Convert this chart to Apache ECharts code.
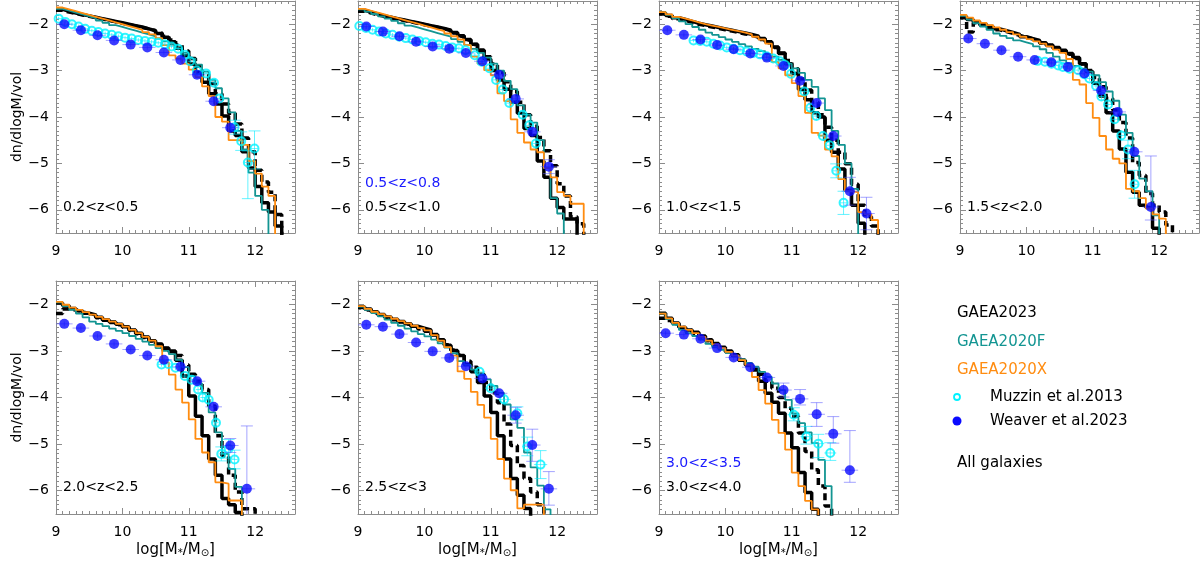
<!DOCTYPE html>
<html>
<head>
<meta charset="utf-8">
<script src="https://cdn.jsdelivr.net/npm/echarts@6/dist/echarts.min.js"></script>
<style>
html, body { margin: 0; padding: 0; background: #fff; }
#chart { width: 1200px; height: 562px; }
</style>
</head>
<body>
<div id="chart"></div>
<script>
// step histograms: log(phi) per 0.1 dex bin, first bin starts at 9.0
// bk = GAEA2023 (solid), bd = GAEA2023 (dashed), tl = GAEA2020F, or = GAEA2020X
var bk1 = [-1.68,-1.72,-1.76,-1.79,-1.82,-1.85,-1.88,-1.91,-1.94,-1.97,-2.0,-2.03,-2.06,-2.1,-2.14,-2.2,-2.28,-2.38,-2.52,-2.68,-2.86,-3.04,-3.25,-3.5,-3.72,-3.98,-4.3,-4.4,-4.75,-5.1,-5.5,-5.85,-6.05,-6.35,-7];
var bd1 = [-1.7,-1.74,-1.77,-1.8,-1.83,-1.86,-1.89,-1.92,-1.95,-1.98,-2.01,-2.04,-2.07,-2.1,-2.14,-2.19,-2.26,-2.34,-2.45,-2.58,-2.74,-2.9,-3.08,-3.28,-3.5,-3.72,-3.92,-4.15,-4.45,-4.75,-5.15,-5.4,-5.62,-6.1,-7];
var tl1 = [-1.67,-1.71,-1.75,-1.79,-1.83,-1.87,-1.92,-1.97,-2.02,-2.06,-2.1,-2.14,-2.18,-2.22,-2.26,-2.31,-2.37,-2.44,-2.52,-2.62,-2.74,-2.87,-3.02,-3.2,-3.38,-3.6,-3.9,-4.3,-4.7,-5.2,-5.7,-6.0,-7];
var or1 = [-1.64,-1.68,-1.72,-1.76,-1.8,-1.84,-1.88,-1.92,-1.96,-2.0,-2.04,-2.08,-2.12,-2.17,-2.22,-2.3,-2.45,-2.67,-2.74,-2.85,-2.98,-3.14,-3.34,-3.55,-4.0,-4.1,-4.5,-4.5,-4.6,-4.95,-5.22,-5.5,-5.7,-7];

var bk2 = [-1.7,-1.74,-1.78,-1.82,-1.85,-1.88,-1.91,-1.94,-1.97,-2.0,-2.03,-2.06,-2.09,-2.13,-2.18,-2.25,-2.33,-2.43,-2.56,-2.75,-3.0,-3.2,-3.4,-3.68,-3.92,-4.25,-4.4,-4.95,-5.3,-5.75,-5.95,-6.2,-6.2,-7];
var bd2 = [-1.72,-1.76,-1.8,-1.83,-1.86,-1.89,-1.92,-1.95,-1.98,-2.01,-2.04,-2.07,-2.1,-2.14,-2.19,-2.26,-2.34,-2.44,-2.56,-2.7,-2.86,-3.04,-3.24,-3.45,-3.68,-3.95,-4.2,-4.44,-4.73,-5.05,-5.44,-5.7,-6.15,-6.3,-7];
var tl2 = [-1.68,-1.73,-1.78,-1.83,-1.88,-1.93,-1.98,-2.03,-2.07,-2.11,-2.15,-2.19,-2.23,-2.27,-2.32,-2.38,-2.45,-2.53,-2.62,-2.72,-2.85,-3.0,-3.22,-3.4,-3.75,-3.95,-4.12,-4.5,-5.1,-5.75,-6.08,-7];
var or2 = [-1.67,-1.71,-1.75,-1.79,-1.83,-1.87,-1.91,-1.95,-1.99,-2.03,-2.07,-2.11,-2.15,-2.2,-2.26,-2.33,-2.45,-2.7,-2.85,-2.99,-3.1,-3.49,-3.66,-4.05,-4.34,-4.55,-4.7,-4.76,-5.1,-5.3,-5.62,-5.7,-5.87,-5.87,-7];

var bk3 = [-1.76,-1.81,-1.86,-1.9,-1.94,-1.98,-2.01,-2.04,-2.07,-2.1,-2.13,-2.16,-2.19,-2.22,-2.26,-2.31,-2.38,-2.49,-2.63,-2.85,-3.06,-3.41,-3.63,-3.91,-4.0,-4.5,-4.76,-5.12,-5.58,-5.9,-6.29,-7];
var bd3 = [-1.78,-1.83,-1.88,-1.92,-1.96,-2.0,-2.03,-2.06,-2.09,-2.12,-2.15,-2.18,-2.21,-2.24,-2.28,-2.33,-2.4,-2.5,-2.62,-2.78,-2.96,-3.18,-3.42,-3.68,-3.95,-4.22,-4.5,-4.76,-5.01,-5.45,-5.9,-6.15,-6.35,-7];
var tl3 = [-1.74,-1.8,-1.87,-1.94,-2.0,-2.06,-2.12,-2.18,-2.23,-2.28,-2.33,-2.38,-2.43,-2.48,-2.53,-2.58,-2.64,-2.7,-2.77,-2.85,-2.95,-3.05,-3.2,-3.35,-3.6,-3.85,-4.3,-4.6,-5.0,-5.55,-7];
var or3 = [-1.74,-1.79,-1.84,-1.88,-1.92,-1.96,-2.0,-2.03,-2.06,-2.09,-2.12,-2.15,-2.18,-2.22,-2.27,-2.33,-2.42,-2.81,-2.95,-3.1,-3.27,-3.55,-3.91,-4.34,-4.4,-4.7,-4.85,-5.34,-5.6,-5.62,-6.05,-6.1,-6.22,-7];

var bk4 = [-1.84,-1.9,-1.95,-2.0,-2.05,-2.1,-2.14,-2.18,-2.22,-2.27,-2.31,-2.35,-2.4,-2.45,-2.5,-2.56,-2.63,-2.72,-2.85,-3.02,-3.27,-3.55,-3.91,-4.3,-4.69,-5.19,-5.62,-5.9,-5.95,-6.4,-7];
var bd4 = [-1.86,-2.17,-1.97,-2.02,-2.07,-2.12,-2.16,-2.2,-2.24,-2.28,-2.32,-2.36,-2.41,-2.46,-2.52,-2.58,-2.65,-2.74,-2.86,-3.0,-3.15,-3.35,-3.6,-3.85,-4.12,-4.45,-4.98,-5.26,-5.65,-5.9,-6.05,-6.33,-7];
var tl4 = [-1.82,-1.9,-1.98,-2.05,-2.12,-2.2,-2.25,-2.3,-2.35,-2.39,-2.43,-2.48,-2.54,-2.62,-2.7,-2.78,-2.84,-2.9,-2.96,-3.02,-3.1,-3.25,-3.45,-3.65,-3.95,-4.34,-4.84,-5.33,-5.6,-6.12,-7];
var or4 = [-1.8,-1.86,-1.92,-1.97,-2.02,-2.07,-2.12,-2.17,-2.22,-2.27,-2.32,-2.37,-2.42,-2.48,-2.55,-2.62,-2.75,-3.2,-3.3,-3.7,-4.02,-4.41,-4.7,-4.9,-5.0,-5.55,-5.6,-5.75,-5.97,-6.1,-6.19,-7];

var bk5 = [-1.97,-2.03,-2.09,-2.14,-2.19,-2.23,-2.28,-2.33,-2.38,-2.43,-2.48,-2.55,-2.62,-2.7,-2.78,-2.85,-2.94,-3.0,-3.2,-3.54,-3.97,-4.4,-4.82,-5.32,-5.67,-6.17,-6.3,-6.47,-7];
var bd5 = [-2.2,-2.1,-2.12,-2.16,-2.2,-2.24,-2.29,-2.34,-2.39,-2.44,-2.49,-2.56,-2.63,-2.71,-2.79,-2.86,-2.95,-3.02,-3.1,-3.3,-3.5,-3.65,-3.83,-4.18,-4.82,-5.25,-5.67,-6.03,-6.39,-6.39,-7];
var tl5 = [-1.96,-2.04,-2.12,-2.2,-2.28,-2.37,-2.42,-2.47,-2.52,-2.57,-2.62,-2.68,-2.74,-2.8,-2.87,-2.94,-3.0,-3.07,-3.19,-3.35,-3.54,-3.7,-3.9,-4.32,-4.75,-5.21,-5.53,-5.92,-7];
var or5 = [-1.95,-2.01,-2.07,-2.12,-2.17,-2.22,-2.27,-2.32,-2.37,-2.42,-2.48,-2.55,-2.62,-2.7,-2.78,-2.9,-3.25,-3.51,-3.83,-4.11,-4.47,-4.89,-5.18,-5.39,-5.82,-5.85,-6.21,-6.21,-7];

var bk6 = [-2.05,-2.1,-2.16,-2.22,-2.27,-2.32,-2.37,-2.42,-2.47,-2.51,-2.55,-2.65,-2.76,-2.88,-2.99,-3.1,-3.29,-3.45,-3.68,-3.97,-4.32,-4.82,-5.32,-5.74,-6.1,-6.38,-7];
var bd6 = [-2.07,-2.12,-2.18,-2.23,-2.28,-2.33,-2.38,-2.43,-2.48,-2.53,-2.58,-2.66,-2.76,-2.87,-2.98,-3.09,-3.22,-3.35,-3.5,-3.68,-3.9,-4.11,-4.57,-5.03,-5.46,-5.74,-6.03,-6.3,-7];
var tl6 = [-2.05,-2.12,-2.19,-2.26,-2.33,-2.4,-2.46,-2.52,-2.58,-2.64,-2.69,-2.76,-2.84,-2.93,-3.05,-3.22,-3.3,-3.4,-3.5,-3.61,-3.75,-3.9,-4.15,-4.47,-4.65,-5.18,-5.5,-5.89,-6.4,-7];
var or6 = [-2.04,-2.1,-2.16,-2.21,-2.26,-2.31,-2.36,-2.41,-2.46,-2.51,-2.56,-2.66,-2.78,-2.92,-3.1,-3.44,-3.6,-3.88,-4.16,-4.43,-4.89,-5.32,-5.74,-5.99,-6.38,-6.3,-6.3,-6.3,-7];

var bk7 = [-2.19,-2.3,-2.4,-2.5,-2.55,-2.6,-2.68,-2.76,-2.84,-2.92,-3.0,-3.08,-3.2,-3.3,-3.41,-3.65,-3.91,-4.1,-4.34,-4.76,-5.08,-5.61,-6.04,-6.4,-7];
var bd7 = [-2.3,-2.35,-2.42,-2.5,-2.56,-2.62,-2.7,-2.78,-2.86,-2.94,-3.02,-3.1,-3.2,-3.28,-3.38,-3.5,-3.65,-3.8,-4.0,-4.23,-4.4,-4.76,-5.16,-5.55,-5.9,-6.33,-7];
var tl7 = [-2.2,-2.32,-2.44,-2.55,-2.62,-2.68,-2.76,-2.85,-2.92,-2.98,-3.04,-3.1,-3.18,-3.26,-3.34,-3.45,-3.56,-3.7,-3.84,-4.05,-4.34,-4.55,-4.75,-4.98,-5.34,-5.9,-7];
var or7 = [-2.2,-2.3,-2.4,-2.48,-2.55,-2.62,-2.7,-2.78,-2.86,-2.94,-3.02,-3.1,-3.2,-3.3,-3.56,-3.84,-4.13,-4.48,-4.76,-5.12,-5.61,-5.9,-6.22,-6.4,-7];

// Weaver et al. 2023 (filled), bins of 0.25 dex
var wvX = [9.125, 9.375, 9.625, 9.875, 10.125, 10.375, 10.625, 10.875, 11.125, 11.375, 11.625, 11.875, 12.125];
var wvX7 = [9.1, 9.375, 9.625, 9.875, 10.125, 10.375, 10.625, 10.875, 11.125, 11.375, 11.625, 11.875];
var wv1 = [-2.0,-2.13,-2.24,-2.35,-2.44,-2.5,-2.61,-2.77,-3.09,-3.66,-4.23];
var wv2 = [-2.05,-2.16,-2.26,-2.38,-2.48,-2.53,-2.62,-2.8,-3.09,-3.61,-4.32,-5.07];
var wv3 = [-2.13,-2.23,-2.33,-2.45,-2.54,-2.63,-2.72,-2.9,-3.22,-3.7,-4.41,-5.6,-6.08];
var wv4 = [-2.31,-2.42,-2.56,-2.7,-2.77,-2.82,-2.92,-3.06,-3.43,-3.89,-4.75,-5.94];
var wv5 = [-2.42,-2.51,-2.68,-2.85,-2.97,-3.1,-3.19,-3.34,-3.65,-4.2,-5.03,-5.96];
var wv6 = [-2.44,-2.48,-2.64,-2.82,-3.01,-3.15,-3.33,-3.59,-3.91,-4.38,-5.02,-5.96];
var wv7 = [-2.62,-2.65,-2.74,-2.94,-3.14,-3.35,-3.57,-3.84,-4.03,-4.36,-4.78,-5.56];
// errors: number = symmetric, [down, up] otherwise
var wvE1 = [.05,.05,.05,.05,.05,.05,.05,.06,.07,.09,.12];
var wvE2 = [.05,.05,.05,.05,.05,.05,.05,.06,.07,.08,.1,.15];
var wvE3 = [.05,.05,.05,.05,.05,.05,.05,.06,.07,.08,.1,.3,.35];
var wvE4 = [.05,.05,.05,.05,.05,.05,.05,.06,.08,.1,.12,[.28,1.1]];
var wvE5 = [.05,.05,.05,.05,.05,.05,.05,.06,.08,.1,.15,[.6,1.35]];
var wvE6 = [.05,.05,.05,.05,.05,.05,.06,.07,.09,.17,[.35,.34],[.35,.37]];
var wvE7 = [.05,.05,.05,.05,.06,.07,.1,.15,[.13,.2],[.26,.25],[.2,.37],[.26,.85]];

// Muzzin et al. 2013 (open circles), [logM, logphi]
var mz1 = [[9.04,-1.88],[9.14,-1.95],[9.24,-2.0],[9.34,-2.05],[9.44,-2.1],[9.54,-2.14],[9.64,-2.17],[9.74,-2.2],[9.84,-2.23],[9.94,-2.26],[10.04,-2.29],[10.14,-2.31],[10.24,-2.34],[10.34,-2.36],[10.44,-2.38],[10.54,-2.4],[10.64,-2.43],[10.74,-2.48],[10.84,-2.53],[10.94,-2.66],[11.02,-2.8],[11.12,-3.0],[11.26,-3.06],[11.38,-3.26],[11.46,-3.6],[11.69,-4.22],[11.79,-4.52],[11.89,-4.98],[11.99,-4.68]];
var mz2 = [[9.02,-2.04],[9.12,-2.08],[9.22,-2.12],[9.32,-2.16],[9.42,-2.2],[9.52,-2.23],[9.62,-2.27],[9.72,-2.3],[9.82,-2.33],[9.92,-2.36],[10.02,-2.39],[10.12,-2.42],[10.22,-2.44],[10.32,-2.47],[10.42,-2.5],[10.52,-2.52],[10.62,-2.56],[10.76,-2.67],[10.86,-2.81],[10.98,-2.95],[11.08,-3.2],[11.18,-3.41],[11.28,-3.7],[11.48,-3.95],[11.58,-4.18],[11.68,-4.57]];
var mz3 = [[9.52,-2.35],[9.62,-2.36],[9.72,-2.38],[9.82,-2.42],[9.92,-2.46],[10.02,-2.5],[10.12,-2.53],[10.22,-2.56],[10.32,-2.59],[10.42,-2.62],[10.52,-2.65],[10.62,-2.69],[10.72,-2.74],[10.82,-2.8],[10.9,-2.88],[10.99,-3.07],[11.19,-3.45],[11.28,-3.8],[11.37,-3.98],[11.47,-4.41],[11.57,-4.61],[11.67,-5.16],[11.78,-5.85]];
var mz4 = [[10.17,-2.79],[10.28,-2.81],[10.38,-2.85],[10.48,-2.89],[10.55,-2.92],[10.65,-2.96],[10.78,-2.99],[10.87,-3.08],[10.95,-3.17],[11.05,-3.33],[11.13,-3.56],[11.23,-3.73],[11.33,-4.05],[11.43,-4.4],[11.53,-4.7],[11.63,-5.45]];
var mz5 = [[10.59,-3.29],[10.69,-3.28],[10.8,-3.36],[10.94,-3.54],[11.04,-3.62],[11.14,-3.83],[11.21,-4.0],[11.3,-4.05],[11.41,-4.54],[11.49,-5.21],[11.6,-5.1],[11.69,-5.33]];
var mz6 = [[10.83,-3.45],[11.0,-3.8],[11.2,-4.04],[11.4,-4.34],[11.55,-5.05],[11.75,-5.44]];
var mz7 = [[11.03,-4.37],[11.22,-4.84],[11.4,-4.99],[11.58,-5.19]];
var mzE1 = [.04,.04,.04,.04,.04,.04,.04,.04,.04,.04,.04,.04,.04,.04,.04,.04,.04,.04,.05,.05,.05,.06,.06,.07,.08,.15,.2,[.78,.25],[.44,.38]];
var mzE2 = [.04,.04,.04,.04,.04,.04,.04,.04,.04,.04,.04,.04,.04,.04,.04,.04,.04,.05,.05,.05,.06,.06,.07,.08,.1,.12];
var mzE3 = [.04,.04,.04,.04,.04,.04,.04,.04,.04,.04,.04,.04,.04,.05,.05,.05,.06,.07,.08,.1,.12,.15,.25];
var mzE4 = [.05,.05,.05,.05,.05,.05,.05,.05,.05,.06,.07,.08,.1,.12,.2,[.3,.3]];
var mzE5 = [.05,.05,.05,.05,.06,.07,.08,.1,.12,.15,.2,.2];
var mzE6 = [.06,.08,.1,.14,.2,[.3,.3]];
var mzE7 = [[.13,.15],[.16,.22],[.3,.2],[.16,.22]];

var zLabels = [['0.2<z<0.5'], ['0.5<z<0.8', '0.5<z<1.0'], ['1.0<z<1.5'], ['1.5<z<2.0'],
               ['2.0<z<2.5'], ['2.5<z<3'], ['3.0<z<3.5', '3.0<z<4.0']];
var xTickVals = [9, 10, 11, 12];
var yTickVals = [-6, -5, -4, -3, -2];

var panels = [
  {bk: bk1, bd: bd1, tl: tl1, or: or1, wx: wvX, wv: wv1, we: wvE1, mz: mz1, me: mzE1},
  {bk: bk2, bd: bd2, tl: tl2, or: or2, wx: wvX, wv: wv2, we: wvE2, mz: mz2, me: mzE2},
  {bk: bk3, bd: bd3, tl: tl3, or: or3, wx: wvX, wv: wv3, we: wvE3, mz: mz3, me: mzE3},
  {bk: bk4, bd: bd4, tl: tl4, or: or4, wx: wvX, wv: wv4, we: wvE4, mz: mz4, me: mzE4},
  {bk: bk5, bd: bd5, tl: tl5, or: or5, wx: wvX, wv: wv5, we: wvE5, mz: mz5, me: mzE5},
  {bk: bk6, bd: bd6, tl: tl6, or: or6, wx: wvX, wv: wv6, we: wvE6, mz: mz6, me: mzE6},
  {bk: bk7, bd: bd7, tl: tl7, or: or7, wx: wvX7, wv: wv7, we: wvE7, mz: mz7, me: mzE7}
];

var FONT = '"DejaVu Sans", sans-serif';
var FRAME = '#8c8c8c';
var C_TEAL = '#139592', C_ORANGE = '#ff8c10', C_CYAN = '#00f2ff', C_BLUE = '#0a0aff';
var C_BLUE_ERR = 'rgba(90,90,255,0.55)', C_CYAN_ERR = 'rgba(0,235,255,0.6)';

var colLeft = [56, 358, 659, 960], rowTop = [1, 281];
var GW = 239, GH = 232;

function stepData(vals) {
  var out = [];
  for (var i = 0; i < vals.length; i++) out.push([+(9 + 0.1 * i).toFixed(2), vals[i]]);
  out.push([+(9 + 0.1 * vals.length).toFixed(2), vals[vals.length - 1]]);
  return out;
}

function errItems(xs, ys, es, hwFn) {
  var out = [];
  for (var i = 0; i < ys.length; i++) {
    var e = es[i] == null ? 0.04 : es[i];
    var dn = Array.isArray(e) ? e[0] : e, up = Array.isArray(e) ? e[1] : e;
    out.push([xs[i], ys[i], dn, up, hwFn(i)]);
  }
  return out;
}

function errRender(color) {
  return function (params, api) {
    var x = api.value(0), y = api.value(1), dn = api.value(2), up = api.value(3), hw = api.value(4);
    var c = api.coord([x, y]);
    var lo = api.coord([x, y - dn]);
    var hi = api.coord([x, y + up]);
    var l = api.coord([x - hw, y]);
    var r = api.coord([x + hw, y]);
    var st = {stroke: color, lineWidth: 1};
    var kids = [
      {type: 'line', shape: {x1: c[0], y1: lo[1], x2: c[0], y2: hi[1]}, style: st},
      {type: 'line', shape: {x1: l[0], y1: c[1], x2: r[0], y2: c[1]}, style: st}
    ];
    if (dn > 0.12) kids.push({type: 'line', shape: {x1: c[0] - 6, y1: lo[1], x2: c[0] + 6, y2: lo[1]}, style: st});
    if (up > 0.12) kids.push({type: 'line', shape: {x1: c[0] - 6, y1: hi[1], x2: c[0] + 6, y2: hi[1]}, style: st});
    return {type: 'group', children: kids};
  };
}

function minusFmt(v) { return v < 0 ? '\u2212' + Math.abs(v) : String(v); }

var grids = [], xAxes = [], yAxes = [], series = [], graphics = [];

panels.forEach(function (p, i) {
  var col = i % 4, row = Math.floor(i / 4);
  var left = colLeft[col], top = rowTop[row];
  grids.push({left: left, top: top, width: GW, height: row === 0 ? GH : GH + 1});

  var lineSt = {color: FRAME, width: 1};
  var xBase = {gridIndex: i, type: 'value', min: 9, max: 12.6, splitLine: {show: false}};
  var yBase = {gridIndex: i, type: 'value', min: -6.5, max: -1.5, splitLine: {show: false}};
  // major bottom (labels)
  xAxes.push(Object.assign({}, xBase, {
    position: 'bottom', interval: 0.5,
    axisLine: {show: true, onZero: false, lineStyle: lineSt},
    axisTick: {show: true, inside: true, length: 6, customValues: xTickVals, lineStyle: lineSt},
    axisLabel: {show: true, customValues: xTickVals, color: '#000', fontSize: 14, fontFamily: FONT, margin: 11},
    name: row === 1 ? 'log[M{s|*}/M{s|\u2299}]' : '', nameLocation: 'middle', nameGap: 28,
    nameTextStyle: {color: '#000', fontSize: 15, fontFamily: FONT,
      rich: {s: {fontSize: 10, fontFamily: FONT, color: '#000', verticalAlign: 'bottom', padding: [6, 0, 0, 0]}}}
  }));
  xAxes.push(Object.assign({}, xBase, {
    position: 'bottom', interval: 0.1, axisLine: {show: false},
    axisTick: {show: true, inside: true, length: 3, lineStyle: lineSt}, axisLabel: {show: false}
  }));
  xAxes.push(Object.assign({}, xBase, {
    position: 'top', interval: 0.5,
    axisLine: {show: true, onZero: false, lineStyle: lineSt},
    axisTick: {show: true, inside: true, length: 6, customValues: xTickVals, lineStyle: lineSt},
    axisLabel: {show: false}
  }));
  xAxes.push(Object.assign({}, xBase, {
    position: 'top', interval: 0.1, axisLine: {show: false},
    axisTick: {show: true, inside: true, length: 3, lineStyle: lineSt}, axisLabel: {show: false}
  }));

  yAxes.push(Object.assign({}, yBase, {
    position: 'left', interval: 0.5,
    axisLine: {show: true, onZero: false, lineStyle: lineSt},
    axisTick: {show: true, inside: true, length: 6, customValues: yTickVals, lineStyle: lineSt},
    axisLabel: {show: true, customValues: yTickVals, color: '#000', fontSize: 14, fontFamily: FONT, margin: 7, formatter: minusFmt},
    name: col === 0 ? 'dn/dlogM/vol' : '', nameLocation: 'middle', nameGap: 32,
    nameTextStyle: {color: '#000', fontSize: 14, fontFamily: FONT}
  }));
  yAxes.push(Object.assign({}, yBase, {
    position: 'left', interval: 0.1, axisLine: {show: false},
    axisTick: {show: true, inside: true, length: 3, lineStyle: lineSt}, axisLabel: {show: false}
  }));
  yAxes.push(Object.assign({}, yBase, {
    position: 'right', interval: 0.5,
    axisLine: {show: true, onZero: false, lineStyle: lineSt},
    axisTick: {show: true, inside: true, length: 6, customValues: yTickVals, lineStyle: lineSt},
    axisLabel: {show: false}
  }));
  yAxes.push(Object.assign({}, yBase, {
    position: 'right', interval: 0.1, axisLine: {show: false},
    axisTick: {show: true, inside: true, length: 3, lineStyle: lineSt}, axisLabel: {show: false}
  }));

  var ax = {xAxisIndex: 4 * i, yAxisIndex: 4 * i};
  function stepLine(vals, color, width, type, z) {
    return Object.assign({
      type: 'line', step: 'end', data: stepData(vals), showSymbol: false, symbol: 'none',
      clip: true, silent: true, z: z,
      lineStyle: {color: color, width: width, type: type}
    }, ax);
  }
  series.push(stepLine(p.bk, '#000', 3.5, 'solid', 2));
  series.push(stepLine(p.bd, '#000', 3.5, [7, 4], 2));
  series.push(stepLine(p.tl, C_TEAL, 1.8, 'solid', 3));
  series.push(stepLine(p.or, C_ORANGE, 1.8, 'solid', 4));

  var mzx = p.mz.map(function (d) { return d[0]; });
  var mzy = p.mz.map(function (d) { return d[1]; });
  series.push(Object.assign({
    type: 'custom', renderItem: errRender(C_CYAN_ERR), clip: true, silent: true, z: 5,
    data: errItems(mzx, mzy, p.me, function (k) {
      var a = k > 0 ? mzx[k] - mzx[k - 1] : 1, b = k < mzx.length - 1 ? mzx[k + 1] - mzx[k] : a;
      return Math.min(0.1, Math.min(a, b) / 2);
    })
  }, ax));
  series.push(Object.assign({
    type: 'scatter', data: p.mz, symbol: 'circle', symbolSize: 8, silent: true, z: 6, clip: true,
    itemStyle: {color: 'rgba(255,255,255,0)', borderColor: C_CYAN, borderWidth: 2}
  }, ax));

  var wx = p.wx.slice(0, p.wv.length);
  series.push(Object.assign({
    type: 'custom', renderItem: errRender(C_BLUE_ERR), clip: true, silent: true, z: 7,
    data: errItems(wx, p.wv, p.we, function () { return 0.125; })
  }, ax));
  series.push(Object.assign({
    type: 'scatter', data: wx.map(function (x, k) { return [x, p.wv[k]]; }),
    symbol: 'circle', symbolSize: 10, silent: true, z: 8, clip: true,
    itemStyle: {color: C_BLUE}
  }, ax));

  // redshift labels
  var labs = zLabels[i];
  labs.forEach(function (t, k) {
    var isBlue = labs.length === 2 && k === 0;
    graphics.push({
      type: 'text', x: left + 7, y: top + (isBlue ? 182 : 206),
      style: {text: t, fill: isBlue ? '#1a1aff' : '#000', font: '14px ' + FONT, verticalAlign: 'middle'}
    });
  });
});

// legend panel
var legX = 957;
graphics.push({type: 'text', x: legX, y: 313, style: {text: 'GAEA2023', fill: '#000', font: '15px ' + FONT, verticalAlign: 'middle'}});
graphics.push({type: 'text', x: legX, y: 342, style: {text: 'GAEA2020F', fill: C_TEAL, font: '15px ' + FONT, verticalAlign: 'middle'}});
graphics.push({type: 'text', x: legX, y: 370, style: {text: 'GAEA2020X', fill: C_ORANGE, font: '15px ' + FONT, verticalAlign: 'middle'}});
graphics.push({type: 'circle', shape: {cx: legX, cy: 397, r: 3}, style: {fill: '#fff', stroke: C_CYAN, lineWidth: 1.8}});
graphics.push({type: 'text', x: 990, y: 397, style: {text: 'Muzzin et al.2013', fill: '#000', font: '15px ' + FONT, verticalAlign: 'middle'}});
graphics.push({type: 'circle', shape: {cx: legX, cy: 421, r: 4.5}, style: {fill: C_BLUE}});
graphics.push({type: 'text', x: 990, y: 421, style: {text: 'Weaver et al.2023', fill: '#000', font: '15px ' + FONT, verticalAlign: 'middle'}});
graphics.push({type: 'text', x: legX, y: 463, style: {text: 'All galaxies', fill: '#000', font: '15px ' + FONT, verticalAlign: 'middle'}});

var chart = echarts.init(document.getElementById('chart'), null, {renderer: 'canvas'});
chart.setOption({
  animation: false,
  backgroundColor: '#fff',
  grid: grids,
  xAxis: xAxes,
  yAxis: yAxes,
  series: series,
  graphic: graphics
});
</script>
</body>
</html>
